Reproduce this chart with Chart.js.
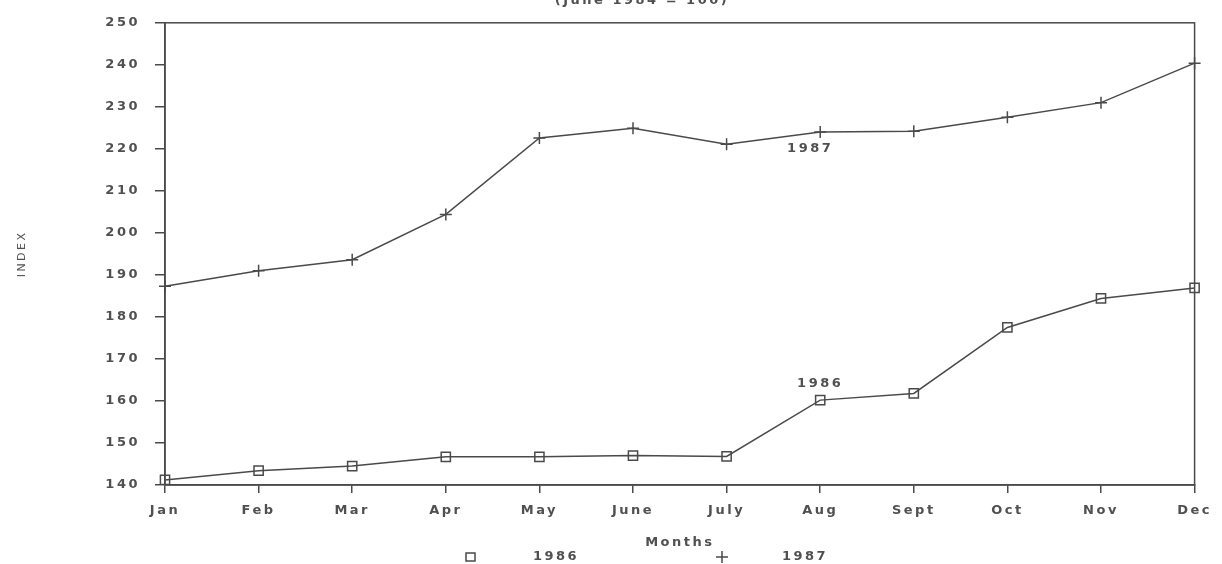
<!DOCTYPE html>
<html>
<head>
<meta charset="utf-8">
<script src="https://cdn.jsdelivr.net/npm/chart.js@4.4.0/dist/chart.umd.min.js"></script>
<style>
  html, body { margin: 0; padding: 0; background: #fff; }
  #wrap { width: 1222px; height: 564px; }
</style>
</head>
<body>
<div id="wrap"><canvas id="chart"></canvas></div>
<script>
// values
const months = ['Jan', 'Feb', 'Mar', 'Apr', 'May', 'June', 'July', 'Aug', 'Sept', 'Oct', 'Nov', 'Dec'];
const index1986 = [141.2, 143.4, 144.5, 146.7, 146.7, 147.0, 146.8, 160.2, 161.8, 177.5, 184.4, 186.9];
const index1987 = [187.3, 191.0, 193.6, 204.4, 222.6, 224.9, 221.1, 224.0, 224.2, 227.5, 231.0, 240.4];
const yMin = 140;
const yMax = 250;
const yStep = 10;
const subtitle = '(June 1984 = 100)';

const ink = '#4a4a4a';
const textInk = '#505050';
const spread = '2.5px';
const plotFont = { family: 'DejaVu Sans', size: 13, weight: 'bold' };

// the old plotter font is very wide, so space the letters out
const letterSpacing = {
    id: 'letterSpacing',
    beforeUpdate(chart) { chart.ctx.letterSpacing = spread; },
    beforeDraw(chart) { chart.ctx.letterSpacing = spread; }
};

const frame = {
    id: 'frame',
    beforeDatasetsDraw(chart) {
        const { ctx, chartArea: a } = chart;
        ctx.save();
        ctx.strokeStyle = ink;
        ctx.lineWidth = 1.5;
        ctx.strokeRect(a.left, a.top, a.right - a.left, a.bottom - a.top);
        ctx.restore();
    }
};

const labels = {
    id: 'labels',
    afterDraw(chart) {
        const { ctx } = chart;
        ctx.save();
        ctx.fillStyle = textInk;
        ctx.font = 'bold 13px "DejaVu Sans"';
        ctx.textAlign = 'center';
        ctx.textBaseline = 'middle';

        // subtitle, cut off by the top of the page
        ctx.fillText(subtitle, 642, 1);

        // series names next to the Aug points
        const p87 = chart.getDatasetMeta(1).data[7];
        const p86 = chart.getDatasetMeta(0).data[7];
        ctx.fillText('1987', p87.x - 10, p87.y + 17);
        ctx.fillText('1986', p86.x, p86.y - 16);

        // legend row
        const ly = 557;
        ctx.strokeStyle = ink;
        ctx.lineWidth = 1.5;
        ctx.strokeRect(466, ly - 4, 9, 8);
        ctx.fillText('1986', 556, ly);
        ctx.beginPath();
        ctx.moveTo(716, ly); ctx.lineTo(728, ly);
        ctx.moveTo(722, ly - 6); ctx.lineTo(722, ly + 6);
        ctx.stroke();
        ctx.fillText('1987', 805, ly);
        ctx.restore();
    }
};

new Chart(document.getElementById('chart'), {
    type: 'line',
    data: {
        labels: months,
        datasets: [{
            label: '1986',
            data: index1986,
            borderColor: ink,
            borderWidth: 1.5,
            pointStyle: 'rect',
            pointRadius: 6.5,
            pointBorderWidth: 1.5,
            pointBorderColor: ink,
            pointBackgroundColor: 'rgba(255,255,255,0)',
            tension: 0,
            fill: false
        }, {
            label: '1987',
            data: index1987,
            borderColor: ink,
            borderWidth: 1.5,
            pointStyle: 'cross',
            pointRadius: 6,
            pointBorderWidth: 1.5,
            pointBorderColor: ink,
            tension: 0,
            fill: false
        }]
    },
    options: {
        responsive: true,
        maintainAspectRatio: false,
        animation: false,
        layout: { padding: { left: 0, right: 23, top: 15, bottom: 0 } },
        plugins: {
            legend: { display: false },
            tooltip: { enabled: false }
        },
        scales: {
            x: {
                offset: false,
                afterFit(scale) { scale.height = 79; },
                grid: {
                    offset: false,
                    drawOnChartArea: false,
                    drawTicks: true,
                    tickLength: 8,
                    color: ink,
                    lineWidth: 1.5
                },
                border: { display: true, color: ink, width: 1.5 },
                ticks: {
                    color: textInk,
                    padding: 10,
                    maxRotation: 0,
                    autoSkip: false,
                    font: plotFont
                },
                title: {
                    display: true,
                    text: 'Months',
                    color: textInk,
                    padding: { top: 0, bottom: 14 },
                    font: plotFont
                }
            },
            y: {
                min: yMin,
                max: yMax,
                afterFit(scale) { scale.width = 165; },
                grid: {
                    drawOnChartArea: false,
                    drawTicks: true,
                    tickLength: 10,
                    color: ink,
                    lineWidth: 1.5
                },
                border: { display: true, color: ink, width: 1.5 },
                ticks: {
                    stepSize: yStep,
                    color: textInk,
                    padding: 15,
                    font: plotFont
                },
                title: {
                    display: true,
                    text: 'INDEX',
                    color: textInk,
                    padding: { top: 16, bottom: 0 },
                    font: { family: 'DejaVu Sans', size: 11 }
                }
            }
        }
    },
    plugins: [letterSpacing, frame, labels]
});
</script>
</body>
</html>
